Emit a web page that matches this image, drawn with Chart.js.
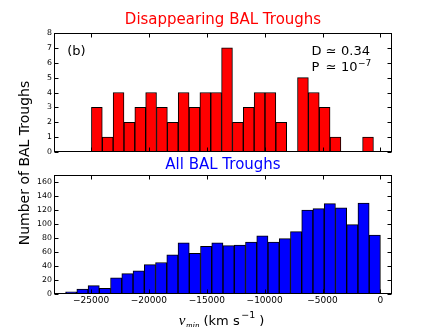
<!DOCTYPE html>
<html><head><meta charset="utf-8">
<script src="https://cdn.jsdelivr.net/npm/chart.js@4"></script>
<style>
html,body{margin:0;padding:0;background:#fff;}
#wrap{position:relative;width:436px;height:327px;overflow:hidden;background:#fff}
canvas{position:absolute;left:0;top:0;}
</style></head><body>
<div id="wrap"><canvas id="bot" width="436" height="327"></canvas><canvas id="top" width="436" height="327"></canvas></div>
<script>
// ---- data ----
const topBinCenters = [-24497,-23560,-22623,-21686,-20749,-19812,-18875,-17938,-17001,-16064,-15127,-14190,-13253,-12316,-11379,-10442,-9505,-8568,-7631,-6694,-5757,-4820,-3883,-2946,-2009,-1072];
const topCounts = [3,1,4,2,3,4,3,2,4,3,4,4,7,2,3,4,4,2,0,5,4,3,1,0,0,1];
const allBinCenters = [-26714,-25743,-24771,-23800,-22829,-21857,-20886,-19914,-18943,-17971,-17000,-16029,-15057,-14086,-13114,-12143,-11171,-10200,-9229,-8257,-7286,-6314,-5343,-4371,-3400,-2429,-1457,-486];
const allCounts = [3,7,12,8,23,29,33,42,45,56,73,58,68,73,69,70,74,83,74,79,89,120,122,129,123,99,130,84];
const xTickValues = [-25000,-20000,-15000,-10000,-5000,0];
const topYTicks = [0,1,2,3,4,5,6,7,8];
const allYTicks = [0,20,40,60,80,100,120,140,160];
const xMin = -28200, xMax = 1000;
const topYMax = 8, allYMax = 170;
const topTitle = 'Disappearing BAL Troughs';
const allTitle = 'All BAL Troughs';
const yLabel = 'Number of BAL Troughs';
const statD = '0.34';
const statPExp = '\u22127';

const baseFont = "'DejaVu Sans', sans-serif";
Chart.defaults.font.family = baseFont;
Chart.defaults.color = '#000';

const fmt = v => v < 0 ? '\u2212' + (-v) : String(v);

const framePlugin = {
  id: 'frame',
  afterDatasetsDraw(chart) {
    const {ctx, chartArea: a, scales: {x, y}} = chart;
    const L = Math.round(a.left) + 0.5, R = Math.round(a.right) - 0.5;
    const T = Math.round(a.top) + 0.5, B = Math.round(a.bottom) - 0.5;
    ctx.save();
    ctx.strokeStyle = '#000'; ctx.lineWidth = 1;
    ctx.strokeRect(L, T, R - L, B - T);
    const len = 4;
    ctx.beginPath();
    x.ticks.forEach(t => {
      const px = Math.round(x.getPixelForValue(t.value)) + 0.5;
      ctx.moveTo(px, B); ctx.lineTo(px, B - len);
      ctx.moveTo(px, T); ctx.lineTo(px, T + len);
    });
    y.ticks.forEach(t => {
      const py = Math.round(y.getPixelForValue(t.value)) + 0.5;
      ctx.moveTo(L, py); ctx.lineTo(L + len, py);
      ctx.moveTo(R, py); ctx.lineTo(R - len, py);
    });
    ctx.stroke();
    ctx.restore();
  }
};

const statsPlugin = {
  id: 'stats',
  afterDraw(chart) {
    const {ctx, chartArea: a} = chart;
    ctx.save();
    ctx.fillStyle = '#000';
    ctx.textBaseline = 'alphabetic';
    ctx.textAlign = 'left';
    ctx.font = "13px 'DejaVu Sans'";
    ctx.fillText('(b)', a.left + 13.3, a.top + 22);
    const gap = 4.3;
    let x0 = a.right - 80.5;
    let x = x0;
    const y1 = a.top + 22, y2 = a.top + 38;
    ctx.fillText('D', x, y1); x += ctx.measureText('D').width + gap;
    ctx.fillText('\u2243', x, y1); x += ctx.measureText('\u2243').width + gap;
    ctx.fillText(statD, x, y1);
    x = x0;
    ctx.fillText('P', x, y2); x += ctx.measureText('D').width + gap;
    ctx.fillText('\u2243', x, y2); x += ctx.measureText('\u2243').width + gap;
    ctx.fillText('10', x, y2); x += ctx.measureText('10').width;
    ctx.font = "9px 'DejaVu Sans'";
    ctx.fillText(statPExp, x + 0.5, y2 - 5.5);
    ctx.restore();
  }
};

const labelsPlugin = {
  id: 'labels',
  afterDraw(chart) {
    const {ctx, chartArea: a} = chart;
    ctx.save();
    ctx.fillStyle = '#000';
    // y label
    ctx.save();
    ctx.translate(28.5, 163);
    ctx.rotate(-Math.PI / 2);
    ctx.font = "14px 'DejaVu Sans'";
    ctx.textAlign = 'center';
    ctx.textBaseline = 'alphabetic';
    ctx.fillText(yLabel, 0, 0);
    ctx.restore();
    // x label: v_min (km s^-1)
    const fV = "italic 15px 'Liberation Serif'";
    const fSub = "italic 9px 'Liberation Serif'";
    const fMain = "13px 'DejaVu Sans'";
    const fSup = "9.5px 'DejaVu Sans'";
    const parts = [
      {t: 'v', f: fV, dy: 0, after: 0.5},
      {t: 'min', f: fSub, dy: 2.5, after: 0},
      {t: ' (km s', f: fMain, dy: 0, after: 1.5},
      {t: '\u22121', f: fSup, dy: -7, after: 4},
      {t: ')', f: fMain, dy: 0, after: 0}
    ];
    let total = 0;
    parts.forEach(p => { ctx.font = p.f; p.w = ctx.measureText(p.t).width; total += p.w + p.after; });
    let x = (a.left + a.right) / 2 - 1.5 - total / 2;
    const base = a.bottom + 31;
    ctx.textAlign = 'left';
    ctx.textBaseline = 'alphabetic';
    parts.forEach(p => { ctx.font = p.f; ctx.fillText(p.t, x, base + p.dy); x += p.w + p.after; });
    ctx.restore();
  }
};

function histChart(canvasId, centers, counts, color, title, titlePad, layoutPad, yMax, yTicks, showXLabels, xAxisHeight, extra) {
  return new Chart(document.getElementById(canvasId), {
    type: 'bar',
    data: {
      datasets: [{
        data: centers.map((c, i) => ({x: c, y: counts[i]})),
        backgroundColor: color,
        borderColor: '#000',
        borderWidth: 1,
        borderSkipped: false,
        barPercentage: 1,
        categoryPercentage: 1
      }]
    },
    options: {
      responsive: false,
      animation: false,
      devicePixelRatio: 1,
      layout: {padding: layoutPad},
      plugins: {
        legend: {display: false},
        tooltip: {enabled: false},
        title: {display: true, text: title, color: color, fullSize: false,
                font: {size: 15, weight: 'normal', family: baseFont}, padding: titlePad}
      },
      scales: {
        x: {
          type: 'linear', min: xMin, max: xMax, offset: false,
          grid: {display: false, drawTicks: false, offset: false},
          border: {display: false},
          afterBuildTicks: s => { s.ticks = xTickValues.map(v => ({value: v})); },
          afterFit: s => { s.height = xAxisHeight; },
          ticks: {display: showXLabels, padding: 1, font: {size: 9}, color: '#000', maxRotation: 0,
                  callback: v => fmt(v)}
        },
        y: {
          min: 0, max: yMax,
          grid: {display: false, drawTicks: false},
          border: {display: false},
          afterBuildTicks: s => { s.ticks = yTicks.map(v => ({value: v})); },
          afterFit: s => { s.width = 54; },
          ticks: {padding: 2, font: {size: 7.8}, color: '#000', callback: v => String(v)}
        }
      }
    },
    plugins: [framePlugin].concat(extra)
  });
}

histChart('bot', allBinCenters, allCounts, '#0000ff', allTitle,
  {top: 6, bottom: 1}, {left: 0, right: 44, top: 150, bottom: 0},
  allYMax, allYTicks, true, 33, [labelsPlugin]);
histChart('top', topBinCenters, topCounts, '#ff0000', topTitle,
  {top: 11, bottom: 4}, {left: 0, right: 44, top: 0, bottom: 175},
  topYMax, topYTicks, false, 0, [statsPlugin]);
</script>
</body></html>
